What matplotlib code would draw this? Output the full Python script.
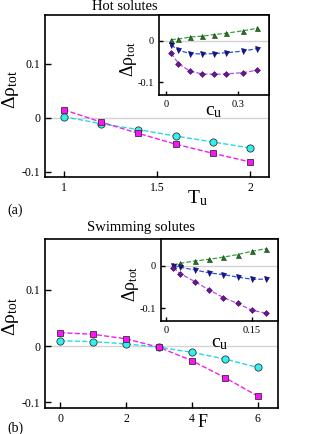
import matplotlib
matplotlib.use("Agg")
import matplotlib.pyplot as plt
from matplotlib.ticker import FixedLocator, FixedFormatter

plt.rcParams["font.family"] = ["Liberation Serif", "DejaVu Serif"]
plt.rcParams["mathtext.fontset"] = "custom"
plt.rcParams["mathtext.rm"] = "Liberation Serif"
plt.rcParams["mathtext.it"] = "Liberation Serif:italic"

# Panel (a): hot solutes
tu = [1.0, 1.2, 1.4, 1.6, 1.8, 2.0]
hot_sq = [0.015, -0.008, -0.029, -0.049, -0.066, -0.082]
hot_ci = [0.002, -0.011, -0.022, -0.034, -0.045, -0.056]

cu_hot = [0.02, 0.05, 0.1, 0.15, 0.2, 0.25, 0.32, 0.38]
hot_up = [0.0025, 0.004, 0.009, 0.011, 0.015, 0.018, 0.024, 0.030]
hot_down = [-0.010, -0.023, -0.031, -0.032, -0.031, -0.029, -0.025, -0.019]
hot_dia = [-0.030, -0.055, -0.074, -0.080, -0.081, -0.080, -0.077, -0.071]

# Panel (b): swimming solutes
force = [0, 1, 2, 3, 4, 5, 6]
swim_sq = [0.024, 0.021, 0.013, -0.002, -0.026, -0.056, -0.089]
swim_ci = [0.0095, 0.008, 0.004, -0.002, -0.011, -0.023, -0.038]

cu_swim = [0.0125, 0.025, 0.05, 0.075, 0.1, 0.125, 0.15, 0.175]
swim_up = [0.002, 0.0055, 0.011, 0.015, 0.020, 0.026, 0.034, 0.040]
swim_down = [0.0, -0.004, -0.010, -0.017, -0.021, -0.027, -0.032, -0.032]
swim_dia = [-0.005, -0.019, -0.0375, -0.057, -0.075, -0.089, -0.105, -0.112]

DRHO = "Δρ$_{\\mathrm{tot}}$"


def style_axes(ax, xticks, xlabels, yticks, ylabels, size):
    ax.xaxis.set_major_locator(FixedLocator(xticks))
    ax.xaxis.set_major_formatter(FixedFormatter(xlabels))
    ax.yaxis.set_major_locator(FixedLocator(yticks))
    ax.yaxis.set_major_formatter(FixedFormatter(ylabels))
    ax.tick_params(direction="in", length=4, width=1, labelsize=size,
                   top=False, right=False)
    for s in ax.spines.values():
        s.set_linewidth(1.2)
    ax.axhline(0, color="#d4d4d4", lw=1, zorder=0)


def main_panel(ax, x, sq, ci, xlim, xticks, xlabels, ylab_x):
    ax.plot(x, ci, ls="--", color="#22dede", lw=1, marker="o", ms=5.2,
            mfc="#33f0f0", mec="#333333", mew=0.6)
    ax.plot(x, sq, ls="--", color="#ee22ee", lw=1, marker="s", ms=4.6,
            mfc="#ff10ff", mec="#333333", mew=0.6)
    ax.set_xlim(*xlim)
    ax.set_ylim(-0.11, 0.19)
    style_axes(ax, xticks, xlabels, [-0.1, 0, 0.1], ["-0.1", "0", "0.1"], 8.5)
    ax.set_ylabel(DRHO, fontsize=14)
    ax.yaxis.set_label_coords(ylab_x, 0.54)


def inset_panel(ax, x, up, down, dia, xlim, xticks, xlabels, xlab_y, ylab_x):
    ax.plot(x, up, ls="--", color="#3aa33a", lw=0.9, marker="^", ms=3.6,
            mfc="#1f7a1f", mec="#113311", mew=0.4)
    ax.plot(x, down, ls="--", color="#3050e0", lw=0.9, marker="v", ms=3.6,
            mfc="#1010b0", mec="#101040", mew=0.4)
    ax.plot(x, dia, ls="--", color="#b050e8", lw=0.9, marker="D", ms=3.0,
            mfc="#7010a0", mec="#301040", mew=0.4)
    ax.set_xlim(*xlim)
    ax.set_ylim(-0.131, 0.062)
    style_axes(ax, xticks, xlabels, [-0.1, 0], ["-0.1", "0"], 7.5)
    ax.tick_params(length=3)
    ax.set_ylabel(DRHO, fontsize=13)
    ax.yaxis.set_label_coords(ylab_x, 0.45)
    ax.set_xlabel("c$_{\\mathrm{u}}$", fontsize=14)
    ax.xaxis.set_label_coords(0.5, xlab_y)


fig = plt.figure(figsize=(3.35, 4.34), dpi=100)

ax_a = fig.add_axes([0.134, 0.592, 0.669, 0.373])
main_panel(ax_a, tu, hot_sq, hot_ci, (0.9, 2.1), [1, 1.5, 2], ["1", "1.5", "2"],
           -0.105)
ax_a.set_xlabel("T$_{\\mathrm{u}}$", fontsize=14)
ax_a.xaxis.set_label_coords(0.68, -0.07)

ins_a = fig.add_axes([0.4746, 0.781, 0.3284, 0.1844])
inset_panel(ins_a, cu_hot, hot_up, hot_down, hot_dia, (-0.031, 0.429),
            [0, 0.3], ["0", "0.3"], -0.1, -0.18)

ax_b = fig.add_axes([0.134, 0.06, 0.695, 0.3886])
main_panel(ax_b, force, swim_sq, swim_ci, (-0.46, 6.6), [0, 2, 4, 6],
           ["0", "2", "4", "6"], -0.102)
ax_b.set_xlabel("F", fontsize=13)
ax_b.xaxis.set_label_coords(0.675, -0.035)

ins_b = fig.add_axes([0.4806, 0.2597, 0.3484, 0.1889])
inset_panel(ins_b, cu_swim, swim_up, swim_down, swim_dia, (-0.009, 0.195),
            [0, 0.15], ["0", "0.15"], -0.17, -0.17)

fig.text(0.372, 0.984, "Hot solutes", ha="center", va="center", fontsize=10.5)
fig.text(0.42, 0.475, "Swimming solutes", ha="center", va="center",
         fontsize=10.5)
fig.text(0.045, 0.516, "(a)", ha="center", va="center", fontsize=10)
fig.text(0.045, 0.014, "(b)", ha="center", va="center", fontsize=10)

fig.savefig("out.png", dpi=100)
